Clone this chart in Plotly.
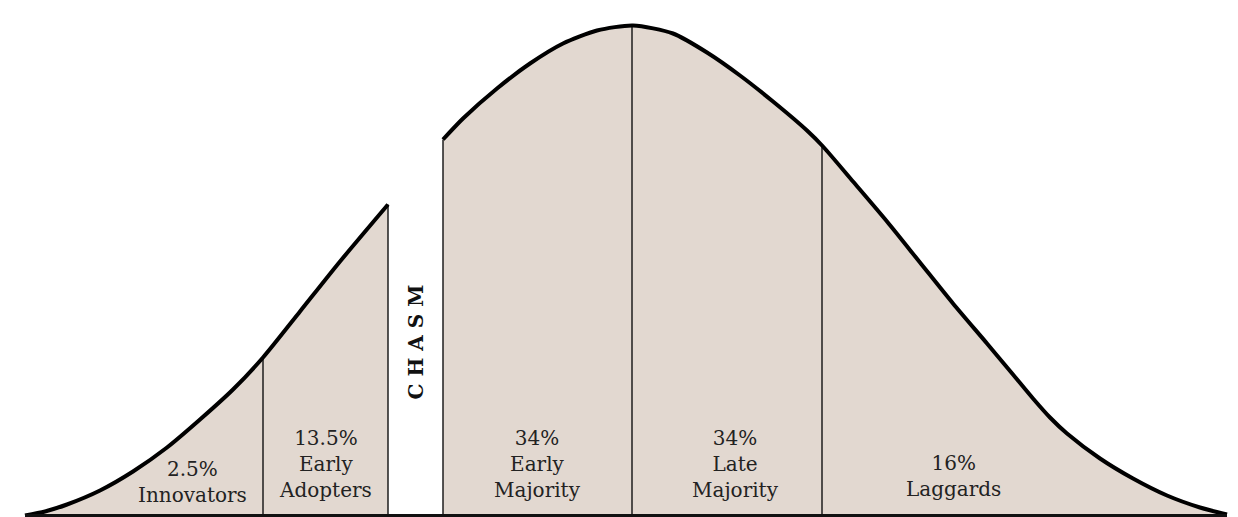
import numpy as np
import plotly.graph_objects as go

# bell curve: piece before the chasm, piece after it
left_x = [25, 45, 67, 100, 133, 167, 200, 233, 263, 300, 340, 388]
left_h = [0, 4, 11, 25, 44, 68, 96, 126, 158, 204, 254, 311]
right_x = [443, 463, 497, 530, 563, 597, 633, 673, 707, 740, 773, 807, 823,
           853, 887, 920, 953, 987, 1013, 1033, 1050, 1067, 1100, 1133, 1167, 1200, 1227]
right_h = [376, 397, 427, 452, 472, 485, 490, 482, 463, 440, 414, 385, 369,
           334, 294, 253, 212, 172, 141, 117, 98, 82, 57, 37, 20, 8, 1]

# segment boundaries
dividers = [263, 388, 443, 632, 822]

pcts = ["2.5%", "13.5%", "34%", "34%", "16%"]
groups = ["Innovators", "Early<br>Adopters", "Early<br>Majority", "Late<br>Majority", "Laggards"]

FILL = "#e2d8d0"
INK = "#222222"
SERIF = "DejaVu Serif"

fig = go.Figure()

# shaded areas
for xs, hs in [(left_x, left_h), (right_x, right_h)]:
    fig.add_trace(go.Scatter(x=xs, y=hs, mode="lines", fill="tozeroy", fillcolor=FILL,
                             line=dict(color="rgba(0,0,0,0)", width=0, shape="spline", smoothing=0.7),
                             hoverinfo="skip"))

# vertical dividers, tops taken from the curve
all_x = left_x + right_x
all_h = left_h + right_h
vx, vy = [], []
for d in dividers:
    top = float(np.interp(d, all_x, all_h))
    vx += [d, d, None]
    vy += [0, top, None]
fig.add_trace(go.Scatter(x=vx, y=vy, mode="lines", line=dict(color="#1e1e1e", width=1.5),
                         hoverinfo="skip"))

# the curve outline
for xs, hs in [(left_x, left_h), (right_x, right_h)]:
    fig.add_trace(go.Scatter(x=xs, y=hs, mode="lines",
                             line=dict(color="black", width=4, shape="spline", smoothing=0.7),
                             hoverinfo="skip"))

# baseline
fig.add_trace(go.Scatter(x=[left_x[0], right_x[-1]], y=[0, 0], mode="lines",
                         line=dict(color="#111", width=3), hoverinfo="skip"))

# labels
label_x = [192, 325, 537, 735, 953]
label_y = [34, 52, 52, 52, 40]
for lx, ly, p, g in zip(label_x, label_y, pcts, groups):
    fig.add_annotation(x=lx, y=ly, text=f"{p}<br>{g}", showarrow=False,
                       font=dict(family=SERIF, size=20, color=INK),
                       xanchor="center", yanchor="middle", align="center")

fig.add_annotation(x=415, y=173, text="C\u00a0H\u00a0A\u00a0S\u00a0M", textangle=-90,
                   showarrow=False, font=dict(family=SERIF, size=20, color="#111", weight="bold"),
                   xanchor="center", yanchor="middle")

fig.update_layout(
    width=1238, height=517, margin=dict(l=0, r=0, t=0, b=0),
    paper_bgcolor="white", plot_bgcolor="white", showlegend=False,
    xaxis=dict(range=[0, 1238], visible=False, fixedrange=True),
    yaxis=dict(range=[-1.5, 515.5], visible=False, fixedrange=True),
)

fig.write_html("out.html", config={"displayModeBar": False},
               post_script="document.body.style.margin='0';")
